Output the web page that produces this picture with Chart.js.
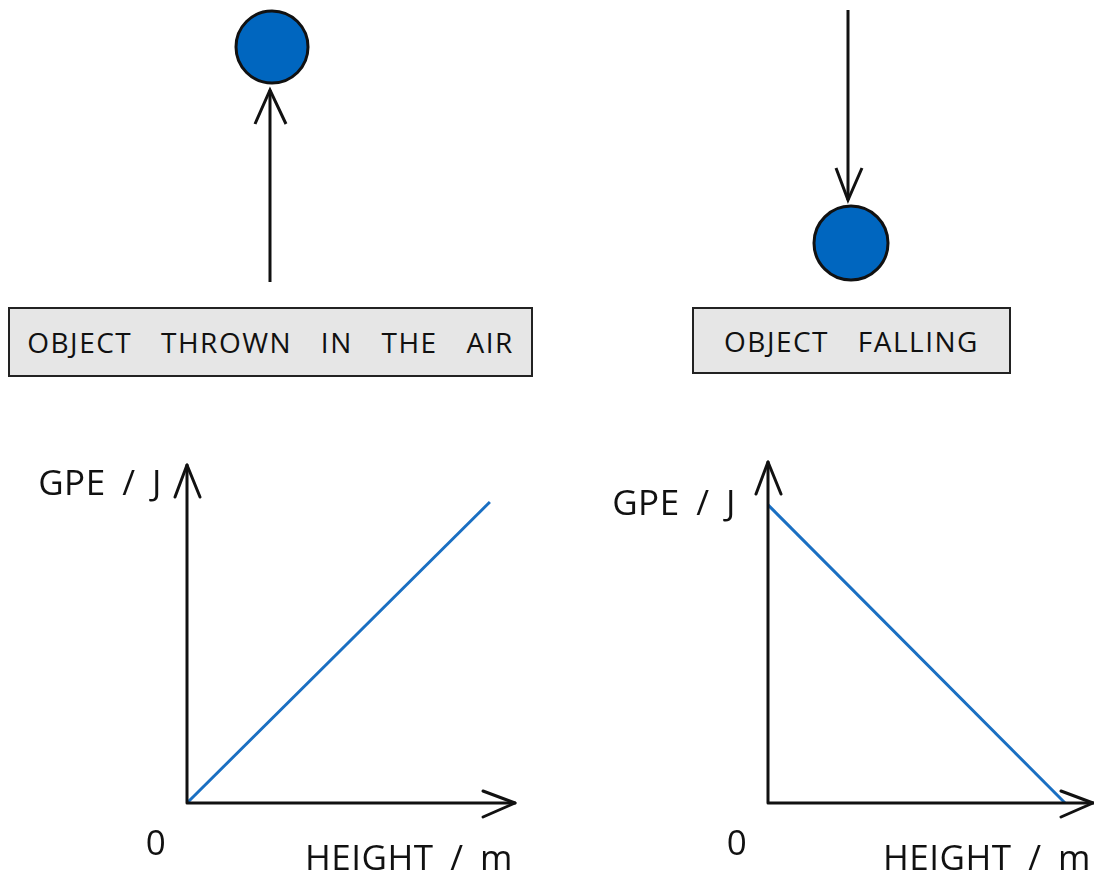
<!DOCTYPE html>
<html>
<head>
<meta charset="utf-8">
<script src="https://cdn.jsdelivr.net/npm/chart.js@4"></script>
<style>
  body { margin: 0; background: #fff; width: 1094px; height: 875px; position: relative; overflow: hidden; font-family: "Open Sans", sans-serif; }
  .box { position: absolute; background: #e6e6e6; border: 2px solid #222; box-sizing: border-box; font-size: 28px; color: #111; letter-spacing: 1.5px; word-spacing: 20px; display: flex; align-items: center; justify-content: center; }
  canvas { position: absolute; }
  svg { position: absolute; left: 0; top: 0; }
</style>
</head>
<body>
<svg width="1094" height="430">
  <!-- thrown object -->
  <line x1="270" y1="282" x2="270" y2="90" stroke="#111" stroke-width="3"/>
  <polyline points="255,124 270,90 286,124" fill="none" stroke="#111" stroke-width="3"/>
  <circle cx="272" cy="47" r="36" fill="#0066bf" stroke="#111" stroke-width="3"/>
  <!-- falling object -->
  <line x1="848" y1="10" x2="848" y2="200" stroke="#111" stroke-width="3"/>
  <polyline points="836,168 848,200 862,168" fill="none" stroke="#111" stroke-width="3"/>
  <circle cx="851" cy="243" r="37" fill="#0066bf" stroke="#111" stroke-width="3"/>
</svg>
<div class="box" style="left:8px;top:307px;width:525px;height:70px;">OBJECT THROWN IN THE AIR</div>
<div class="box" style="left:692px;top:307px;width:319px;height:67px;">OBJECT FALLING</div>

<div style="position:absolute;left:0;top:430px;width:547px;height:445px;"><canvas id="left"></canvas></div>
<div style="position:absolute;left:547px;top:430px;width:547px;height:445px;"><canvas id="right"></canvas></div>

<script>
// height axis runs 0..1, GPE runs 0..1
const thrownHeight = [0, 1];
const thrownGPE = [0, 1];
const fallingHeight = [0, 1];
const fallingGPE = [1, 0];
const yAxisLabel = "GPE / J";
const xAxisLabel = "HEIGHT / m";
const originLabel = "0";

const lineColor = "#1a6fc2";

const axesPlugin = {
  id: "sketchAxes",
  afterDatasetsDraw(chart, args, opts) {
    const { ctx, chartArea: a } = chart;
    ctx.save();
    ctx.strokeStyle = "#111";
    ctx.lineWidth = 3;
    ctx.lineCap = "round";
    ctx.lineJoin = "round";
    ctx.beginPath();
    ctx.moveTo(a.left, a.top);
    ctx.lineTo(a.left, a.bottom);
    ctx.lineTo(a.right, a.bottom);
    ctx.stroke();
    // arrow heads
    ctx.beginPath();
    ctx.moveTo(a.left - 12, a.top + 32);
    ctx.lineTo(a.left, a.top);
    ctx.lineTo(a.left + 13, a.top + 32);
    ctx.moveTo(a.right - 32, a.bottom - 12);
    ctx.lineTo(a.right, a.bottom);
    ctx.lineTo(a.right - 32, a.bottom + 14);
    ctx.stroke();
    ctx.fillStyle = "#111";
    ctx.font = "35px 'Open Sans', sans-serif";
    ctx.letterSpacing = "0.5px";
    ctx.wordSpacing = "7px";
    ctx.textBaseline = "middle";
    ctx.textAlign = "right";
    ctx.fillText(yAxisLabel, a.left + opts.yLabelDx, a.top + opts.yLabelDy);
    ctx.fillText(xAxisLabel, a.right + opts.xLabelDx, a.bottom + 57);
    ctx.textAlign = "center";
    ctx.fillText(originLabel, a.left - 31, a.bottom + 42);
    ctx.restore();
  }
};

function makeChart(id, xs, ys, xMax, yMax, pad, labelOpts) {
  new Chart(document.getElementById(id), {
    type: "scatter",
    data: {
      datasets: [{
        data: xs.map((x, i) => ({ x: x, y: ys[i] })),
        showLine: true,
        borderColor: lineColor,
        borderWidth: 3,
        pointRadius: 0,
        clip: false
      }]
    },
    options: {
      responsive: true,
      maintainAspectRatio: false,
      animation: false,
      events: [],
      layout: { padding: pad },
      plugins: { legend: { display: false }, tooltip: { enabled: false }, sketchAxes: labelOpts },
      scales: {
        x: { type: "linear", min: 0, max: xMax, display: false },
        y: { type: "linear", min: 0, max: yMax, display: false }
      }
    },
    plugins: [axesPlugin]
  });
}

makeChart("left", thrownHeight, thrownGPE, 1.083, 1.123,
  { left: 187, right: 32, top: 35, bottom: 72 },
  { yLabelDx: -25, yLabelDy: 20, xLabelDx: -2 });
makeChart("right", fallingHeight, fallingGPE, 1.094, 1.144,
  { left: 221, right: 1, top: 32, bottom: 72 },
  { yLabelDx: -32, yLabelDy: 43, xLabelDx: -2 });
</script>
</body>
</html>
